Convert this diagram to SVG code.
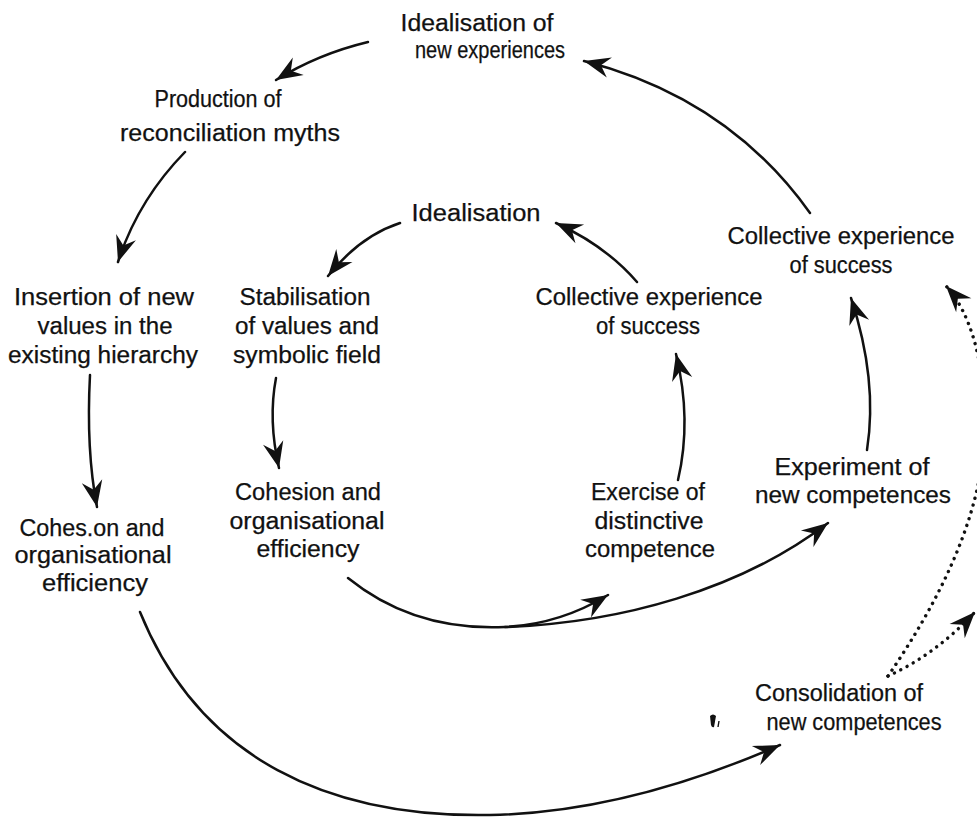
<svg xmlns="http://www.w3.org/2000/svg" width="977" height="818" viewBox="0 0 977 818">
  <style>
    text { font-family: "Liberation Sans", "DejaVu Sans", sans-serif; font-size: 23px; fill: #111; text-anchor: middle; stroke: #111; stroke-width: 0.25; }
    .link { fill: none; stroke: #111; stroke-width: 2.5; stroke-linecap: round; }
    .dots { fill: none; stroke: #111; stroke-width: 3.4; stroke-linecap: round; stroke-dasharray: 0.1 7; }
  </style>
  <defs>
    <marker id="head" markerUnits="userSpaceOnUse" markerWidth="34" markerHeight="24" viewBox="-26 -11 30 22" refX="0" refY="0" orient="auto">
      <path d="M0,0 L-24,-9.5 L-16,0 L-24,9.5 Z" fill="#111"/>
    </marker>
  </defs>

  <rect width="977" height="818" fill="#fff"/>

  <!-- connectors -->
  <g id="connectors">
    <path class="link" d="M368,42 Q318,54 276,80" marker-end="url(#head)"/>
    <path class="link" d="M810,213 Q728,98 584,61" marker-end="url(#head)"/>
    <path class="link" d="M185,152 Q138,200 118,262" marker-end="url(#head)"/>
    <path class="link" d="M400,223 Q360,236 328,276" marker-end="url(#head)"/>
    <path class="link" d="M637,282 Q606,246 556,223" marker-end="url(#head)"/>
    <path class="link" d="M90,375 Q86,450 97,507" marker-end="url(#head)"/>
    <path class="link" d="M276,378 Q268,420 279,468" marker-end="url(#head)"/>
    <path class="link" d="M678,480 Q692,420 676,354" marker-end="url(#head)"/>
    <path class="link" d="M867,450 Q878,380 851,298" marker-end="url(#head)"/>
    <path class="link" d="M348,578 C390,612 440,630 505,627 C545,625 580,612 608,595" marker-end="url(#head)"/>
    <path class="link" d="M505,627 C620,623 740,590 828,523" marker-end="url(#head)"/>
    <path class="link" d="M140,612 C200,760 330,818 490,815 C600,813 700,780 780,745" marker-end="url(#head)"/>
    <path class="dots" d="M888,676 C940,600 986,510 985,420 C984,360 970,312 946,286" marker-end="url(#head)"/>
    <path class="dots" d="M888,676 Q935,655 975,612" marker-end="url(#head)"/>
  </g>

  <g id="idealisation-new">
    <text x="477" y="31" textLength="153" lengthAdjust="spacingAndGlyphs">Idealisation of</text>
    <text x="490" y="58" textLength="150" lengthAdjust="spacingAndGlyphs">new experiences</text>
  </g>
  <g id="production-myths">
    <text x="218" y="107" textLength="127" lengthAdjust="spacingAndGlyphs">Production of</text>
    <text x="230" y="141" textLength="220" lengthAdjust="spacingAndGlyphs">reconciliation myths</text>
  </g>
  <g id="idealisation">
    <text x="476" y="221" textLength="129" lengthAdjust="spacingAndGlyphs">Idealisation</text>
  </g>
  <g id="collective-outer">
    <text x="841" y="244" textLength="227" lengthAdjust="spacingAndGlyphs">Collective experience</text>
    <text x="841" y="273" textLength="103" lengthAdjust="spacingAndGlyphs">of success</text>
  </g>
  <g id="insertion">
    <text x="104" y="305" textLength="180" lengthAdjust="spacingAndGlyphs">Insertion of new</text>
    <text x="105" y="334" textLength="135" lengthAdjust="spacingAndGlyphs">values in the</text>
    <text x="103" y="363" textLength="190" lengthAdjust="spacingAndGlyphs">existing hierarchy</text>
  </g>
  <g id="stabilisation">
    <text x="305" y="305" textLength="131" lengthAdjust="spacingAndGlyphs">Stabilisation</text>
    <text x="307" y="334" textLength="144" lengthAdjust="spacingAndGlyphs">of values and</text>
    <text x="307" y="363" textLength="148" lengthAdjust="spacingAndGlyphs">symbolic field</text>
  </g>
  <g id="collective-inner">
    <text x="649" y="305" textLength="227" lengthAdjust="spacingAndGlyphs">Collective experience</text>
    <text x="648" y="334" textLength="104" lengthAdjust="spacingAndGlyphs">of success</text>
  </g>
  <g id="experiment">
    <text x="852" y="475" textLength="155" lengthAdjust="spacingAndGlyphs">Experiment of</text>
    <text x="853" y="503" textLength="196" lengthAdjust="spacingAndGlyphs">new competences</text>
  </g>
  <g id="cohesion-inner">
    <text x="308" y="500" textLength="146" lengthAdjust="spacingAndGlyphs">Cohesion and</text>
    <text x="307" y="529" textLength="155" lengthAdjust="spacingAndGlyphs">organisational</text>
    <text x="308" y="557" textLength="103" lengthAdjust="spacingAndGlyphs">efficiency</text>
  </g>
  <g id="exercise">
    <text x="648" y="500" textLength="114" lengthAdjust="spacingAndGlyphs">Exercise of</text>
    <text x="649" y="529" textLength="109" lengthAdjust="spacingAndGlyphs">distinctive</text>
    <text x="650" y="557" textLength="130" lengthAdjust="spacingAndGlyphs">competence</text>
  </g>
  <g id="cohesion-outer">
    <text x="92" y="536" textLength="145" lengthAdjust="spacingAndGlyphs">Cohes.on and</text>
    <text x="93" y="563" textLength="157" lengthAdjust="spacingAndGlyphs">organisational</text>
    <text x="95" y="591" textLength="106" lengthAdjust="spacingAndGlyphs">efficiency</text>
  </g>
  <g id="consolidation">
    <text x="839" y="701" textLength="168" lengthAdjust="spacingAndGlyphs">Consolidation of</text>
    <text x="854" y="730" textLength="175" lengthAdjust="spacingAndGlyphs">new competences</text>
  </g>

  <!-- ink speck left of the consolidation label -->
  <path d="M710,716 Q713,713 716,716 L714,727 Q712,728 711,725 Z" fill="#111"/>
  <path d="M719,721 L718,727" stroke="#111" stroke-width="1.4"/>
</svg>
